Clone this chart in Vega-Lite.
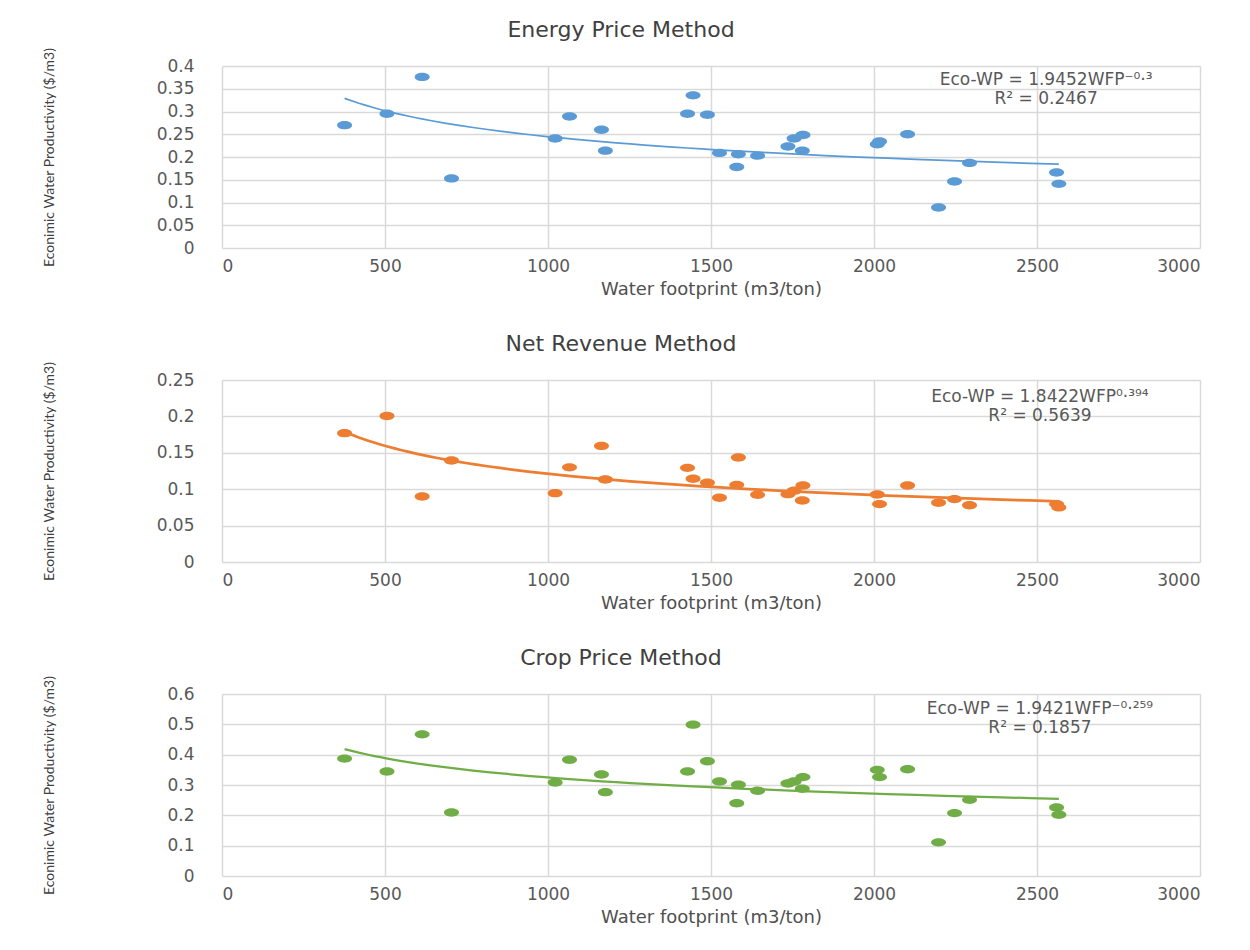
{
  "$schema": "https://vega.github.io/schema/vega-lite/v6.json",
  "background": "white",
  "padding": {"left": 42, "top": 19, "right": 10, "bottom": 5},
  "spacing": 35,
  "config": {
    "view": {"stroke": null},
    "font": "DejaVu Sans",
    "title": {"fontSize": 22, "fontWeight": "normal", "color": "#404040", "frame": "bounds", "anchor": "middle", "offset": 5, "font": "DejaVu Sans"},
    "axis": {"grid": true, "gridColor": "#d9d9d9", "gridWidth": 1.5, "domain": false, "ticks": false, "labelColor": "#595959", "labelFont": "DejaVu Sans", "labelFontSize": 17, "titleColor": "#505050", "titleFontWeight": "normal"},
    "axisX": {"labelPadding": 10, "titlePadding": 6, "titleFontSize": 18, "titleFont": "DejaVu Sans"},
    "axisY": {"labelPadding": 28, "titleFont": "Liberation Sans Narrow, Lato", "titleFontSize": 14, "titleColor": "#404040", "titleX": -173, "titleBaseline": "middle"}
  },
  "datasets": {
    "energy": [
      {"wf": 376, "ewp": 0.270}, {"wf": 506, "ewp": 0.295}, {"wf": 614, "ewp": 0.376}, {"wf": 704, "ewp": 0.153},
      {"wf": 1022, "ewp": 0.2405}, {"wf": 1066, "ewp": 0.289}, {"wf": 1164, "ewp": 0.260}, {"wf": 1176, "ewp": 0.214},
      {"wf": 1428, "ewp": 0.295}, {"wf": 1445, "ewp": 0.3355}, {"wf": 1489, "ewp": 0.293}, {"wf": 1526, "ewp": 0.209},
      {"wf": 1584, "ewp": 0.206}, {"wf": 1579, "ewp": 0.178}, {"wf": 1643, "ewp": 0.203}, {"wf": 1736, "ewp": 0.223},
      {"wf": 1755, "ewp": 0.2405}, {"wf": 1782, "ewp": 0.2485}, {"wf": 1780, "ewp": 0.214}, {"wf": 2010, "ewp": 0.228},
      {"wf": 2017, "ewp": 0.234}, {"wf": 2103, "ewp": 0.250}, {"wf": 2198, "ewp": 0.089}, {"wf": 2247, "ewp": 0.146},
      {"wf": 2293, "ewp": 0.187}, {"wf": 2560, "ewp": 0.166}, {"wf": 2567, "ewp": 0.141}
    ],
    "netrev": [
      {"wf": 376, "ewp": 0.177}, {"wf": 506, "ewp": 0.2006}, {"wf": 614, "ewp": 0.090}, {"wf": 704, "ewp": 0.1394},
      {"wf": 1022, "ewp": 0.0946}, {"wf": 1066, "ewp": 0.130}, {"wf": 1164, "ewp": 0.1595}, {"wf": 1176, "ewp": 0.1133},
      {"wf": 1428, "ewp": 0.1293}, {"wf": 1445, "ewp": 0.1143}, {"wf": 1489, "ewp": 0.1088}, {"wf": 1526, "ewp": 0.0882},
      {"wf": 1584, "ewp": 0.1435}, {"wf": 1579, "ewp": 0.106}, {"wf": 1643, "ewp": 0.0923}, {"wf": 1736, "ewp": 0.0932},
      {"wf": 1755, "ewp": 0.0978}, {"wf": 1782, "ewp": 0.105}, {"wf": 1780, "ewp": 0.0845}, {"wf": 2010, "ewp": 0.0928},
      {"wf": 2017, "ewp": 0.0795}, {"wf": 2103, "ewp": 0.105}, {"wf": 2198, "ewp": 0.0813}, {"wf": 2247, "ewp": 0.0864},
      {"wf": 2293, "ewp": 0.078}, {"wf": 2560, "ewp": 0.0795}, {"wf": 2567, "ewp": 0.075}
    ],
    "crop": [
      {"wf": 376, "ewp": 0.387}, {"wf": 506, "ewp": 0.3445}, {"wf": 614, "ewp": 0.467}, {"wf": 704, "ewp": 0.2095},
      {"wf": 1022, "ewp": 0.308}, {"wf": 1066, "ewp": 0.383}, {"wf": 1164, "ewp": 0.3346}, {"wf": 1176, "ewp": 0.2764},
      {"wf": 1428, "ewp": 0.3445}, {"wf": 1445, "ewp": 0.499}, {"wf": 1489, "ewp": 0.3785}, {"wf": 1526, "ewp": 0.3115},
      {"wf": 1584, "ewp": 0.3006}, {"wf": 1579, "ewp": 0.240}, {"wf": 1643, "ewp": 0.281}, {"wf": 1736, "ewp": 0.305},
      {"wf": 1755, "ewp": 0.3115}, {"wf": 1782, "ewp": 0.326}, {"wf": 1780, "ewp": 0.2874}, {"wf": 2010, "ewp": 0.350},
      {"wf": 2017, "ewp": 0.326}, {"wf": 2103, "ewp": 0.352}, {"wf": 2198, "ewp": 0.111}, {"wf": 2247, "ewp": 0.2073},
      {"wf": 2293, "ewp": 0.251}, {"wf": 2560, "ewp": 0.226}, {"wf": 2567, "ewp": 0.202}
    ]
  },
  "vconcat": [
    {
      "title": "Energy Price Method",
      "width": 978, "height": 182,
      "layer": [
        {
          "data": {"name": "energy"},
          "mark": {"type": "point", "shape": "M -1 0 A 1 0.56 0 1 1 1 0 A 1 0.56 0 1 1 -1 0 Z", "filled": true, "opacity": 1, "size": 225, "color": "#5B9BD5"},
          "encoding": {
            "x": {"field": "wf", "type": "quantitative", "scale": {"domain": [0, 3000], "nice": false}, "axis": {"title": "Water footprint (m3/ton)", "values": [0, 500, 1000, 1500, 2000, 2500, 3000], "format": "d"}},
            "y": {"field": "ewp", "type": "quantitative", "scale": {"domain": [0, 0.4], "nice": false}, "axis": {"title": "Econimic Water Productivity ($/m3)", "values": [0, 0.05, 0.1, 0.15, 0.2, 0.25, 0.3, 0.35, 0.4], "format": "~g"}}
          }
        },
        {
          "data": {"name": "energy"},
          "transform": [{"regression": "ewp", "on": "wf", "method": "pow"}],
          "mark": {"type": "line", "color": "#5B9BD5", "strokeWidth": 1.75},
          "encoding": {
            "x": {"field": "wf", "type": "quantitative", "axis": {"title": "Water footprint (m3/ton)", "values": [0, 500, 1000, 1500, 2000, 2500, 3000], "format": "d"}},
            "y": {"field": "ewp", "type": "quantitative", "axis": {"title": "Econimic Water Productivity ($/m3)", "values": [0, 0.05, 0.1, 0.15, 0.2, 0.25, 0.3, 0.35, 0.4], "format": "~g"}}
          }
        },
        {
          "data": {"values": [{"label": "Eco-WP = 1.9452WFP⁻⁰·³\nR² = 0.2467"}]},
          "mark": {"type": "text", "fontSize": 17, "color": "#595959", "align": "center", "baseline": "middle", "lineBreak": "\n", "lineHeight": 19, "font": "DejaVu Sans"},
          "encoding": {
            "x": {"datum": 2528, "type": "quantitative", "axis": {"title": "Water footprint (m3/ton)", "values": [0, 500, 1000, 1500, 2000, 2500, 3000], "format": "d"}},
            "y": {"datum": 0.3686, "type": "quantitative", "axis": {"title": "Econimic Water Productivity ($/m3)", "values": [0, 0.05, 0.1, 0.15, 0.2, 0.25, 0.3, 0.35, 0.4], "format": "~g"}},
            "text": {"field": "label"}
          }
        }
      ]
    },
    {
      "title": "Net Revenue Method",
      "width": 978, "height": 182,
      "layer": [
        {
          "data": {"name": "netrev"},
          "mark": {"type": "point", "shape": "M -1 0 A 1 0.56 0 1 1 1 0 A 1 0.56 0 1 1 -1 0 Z", "filled": true, "opacity": 1, "size": 225, "color": "#ED7D31"},
          "encoding": {
            "x": {"field": "wf", "type": "quantitative", "scale": {"domain": [0, 3000], "nice": false}, "axis": {"title": "Water footprint (m3/ton)", "values": [0, 500, 1000, 1500, 2000, 2500, 3000], "format": "d"}},
            "y": {"field": "ewp", "type": "quantitative", "scale": {"domain": [0, 0.25], "nice": false}, "axis": {"title": "Econimic Water Productivity ($/m3)", "values": [0, 0.05, 0.1, 0.15, 0.2, 0.25], "format": "~g"}}
          }
        },
        {
          "data": {"name": "netrev"},
          "transform": [{"regression": "ewp", "on": "wf", "method": "pow"}],
          "mark": {"type": "line", "color": "#ED7D31", "strokeWidth": 2.75},
          "encoding": {
            "x": {"field": "wf", "type": "quantitative", "axis": {"title": "Water footprint (m3/ton)", "values": [0, 500, 1000, 1500, 2000, 2500, 3000], "format": "d"}},
            "y": {"field": "ewp", "type": "quantitative", "axis": {"title": "Econimic Water Productivity ($/m3)", "values": [0, 0.05, 0.1, 0.15, 0.2, 0.25], "format": "~g"}}
          }
        },
        {
          "data": {"values": [{"label": "Eco-WP = 1.8422WFP⁰·³⁹⁴\nR² = 0.5639"}]},
          "mark": {"type": "text", "fontSize": 17, "color": "#595959", "align": "center", "baseline": "middle", "lineBreak": "\n", "lineHeight": 19, "font": "DejaVu Sans"},
          "encoding": {
            "x": {"datum": 2509, "type": "quantitative", "axis": {"title": "Water footprint (m3/ton)", "values": [0, 500, 1000, 1500, 2000, 2500, 3000], "format": "d"}},
            "y": {"datum": 0.2267, "type": "quantitative", "axis": {"title": "Econimic Water Productivity ($/m3)", "values": [0, 0.05, 0.1, 0.15, 0.2, 0.25], "format": "~g"}},
            "text": {"field": "label"}
          }
        }
      ]
    },
    {
      "title": "Crop Price Method",
      "width": 978, "height": 182,
      "layer": [
        {
          "data": {"name": "crop"},
          "mark": {"type": "point", "shape": "M -1 0 A 1 0.56 0 1 1 1 0 A 1 0.56 0 1 1 -1 0 Z", "filled": true, "opacity": 1, "size": 225, "color": "#70AD47"},
          "encoding": {
            "x": {"field": "wf", "type": "quantitative", "scale": {"domain": [0, 3000], "nice": false}, "axis": {"title": "Water footprint (m3/ton)", "values": [0, 500, 1000, 1500, 2000, 2500, 3000], "format": "d"}},
            "y": {"field": "ewp", "type": "quantitative", "scale": {"domain": [0, 0.6], "nice": false}, "axis": {"title": "Econimic Water Productivity ($/m3)", "values": [0, 0.1, 0.2, 0.3, 0.4, 0.5, 0.6], "format": "~g"}}
          }
        },
        {
          "data": {"name": "crop"},
          "transform": [{"regression": "ewp", "on": "wf", "method": "pow"}],
          "mark": {"type": "line", "color": "#70AD47", "strokeWidth": 2.25},
          "encoding": {
            "x": {"field": "wf", "type": "quantitative", "axis": {"title": "Water footprint (m3/ton)", "values": [0, 500, 1000, 1500, 2000, 2500, 3000], "format": "d"}},
            "y": {"field": "ewp", "type": "quantitative", "axis": {"title": "Econimic Water Productivity ($/m3)", "values": [0, 0.1, 0.2, 0.3, 0.4, 0.5, 0.6], "format": "~g"}}
          }
        },
        {
          "data": {"values": [{"label": "Eco-WP = 1.9421WFP⁻⁰·²⁵⁹\nR² = 0.1857"}]},
          "mark": {"type": "text", "fontSize": 17, "color": "#595959", "align": "center", "baseline": "middle", "lineBreak": "\n", "lineHeight": 19, "font": "DejaVu Sans"},
          "encoding": {
            "x": {"datum": 2509, "type": "quantitative", "axis": {"title": "Water footprint (m3/ton)", "values": [0, 500, 1000, 1500, 2000, 2500, 3000], "format": "d"}},
            "y": {"datum": 0.5506, "type": "quantitative", "axis": {"title": "Econimic Water Productivity ($/m3)", "values": [0, 0.1, 0.2, 0.3, 0.4, 0.5, 0.6], "format": "~g"}},
            "text": {"field": "label"}
          }
        }
      ]
    }
  ]
}
